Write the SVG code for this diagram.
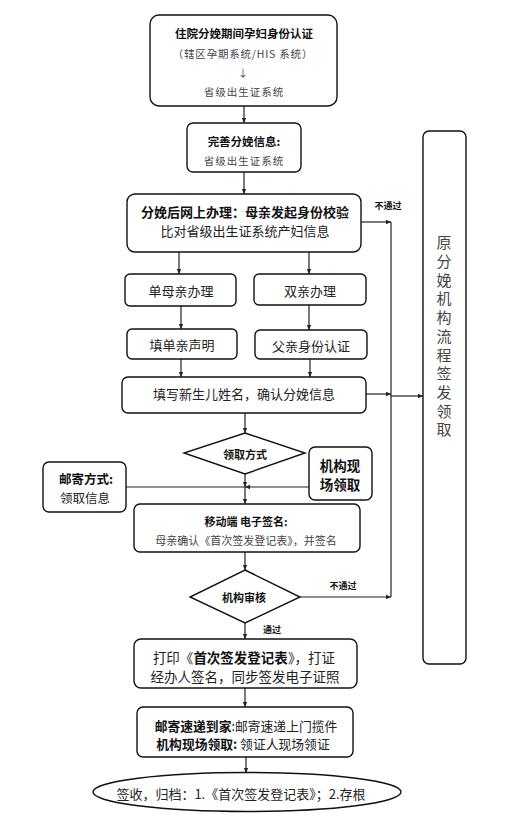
<svg xmlns="http://www.w3.org/2000/svg" width="515" height="826" viewBox="0 0 515 826">
<style>
  .box{fill:#fff;stroke:#111;stroke-width:1.4}
  .t{font-family:"Noto Sans CJK SC","Noto Sans",sans-serif;fill:#222;text-anchor:middle;dominant-baseline:central}
  .b{font-weight:bold;fill:#111}
  .g{fill:#444}
  .ln{fill:none;stroke:#222;stroke-width:1.2}
  .arr{marker-end:url(#ah)}
</style>
<defs>
  <marker id="ah" viewBox="0 0 8 8" refX="7" refY="4" markerWidth="6" markerHeight="6" orient="auto" markerUnits="userSpaceOnUse">
    <path d="M0,1 L7,4 L0,7 Z" fill="#222"/>
  </marker>
</defs>
<rect width="515" height="826" fill="#fff"/>

<g id="connectors">
  <line class="ln arr" x1="244" y1="106" x2="244" y2="123"/>
  <line class="ln arr" x1="244" y1="172" x2="244" y2="194"/>
  <line class="ln arr" x1="179" y1="252" x2="179" y2="274"/>
  <line class="ln arr" x1="309" y1="252" x2="309" y2="274"/>
  <line class="ln arr" x1="181" y1="306" x2="181" y2="329"/>
  <line class="ln arr" x1="309" y1="305" x2="309" y2="330"/>
  <line class="ln arr" x1="181" y1="359" x2="181" y2="377"/>
  <line class="ln arr" x1="310" y1="359" x2="310" y2="377"/>
  <line class="ln arr" x1="361" y1="222" x2="391" y2="222"/>
  <line class="ln" x1="391" y1="222" x2="391" y2="597"/>
  <line class="ln arr" x1="366" y1="394" x2="391" y2="394"/>
  <line class="ln arr" x1="391" y1="396" x2="423" y2="396"/>
  <line class="ln arr" x1="300" y1="597" x2="391" y2="597"/>
  <line class="ln arr" x1="245" y1="413" x2="245" y2="433"/>
  <line class="ln arr" x1="245" y1="474" x2="245" y2="487"/>
  <line class="ln" x1="126" y1="487" x2="245" y2="487"/>
  <line class="ln arr" x1="309" y1="487" x2="245" y2="487"/>
  <line class="ln arr" x1="245" y1="487" x2="245" y2="504"/>
  <line class="ln arr" x1="245" y1="552" x2="245" y2="570"/>
  <line class="ln arr" x1="245" y1="623" x2="245" y2="639"/>
  <line class="ln arr" x1="245" y1="688" x2="245" y2="707"/>
  <line class="ln arr" x1="246" y1="757" x2="246" y2="773"/>
  <text class="t b" x="388" y="205" font-size="9">不通过</text>
  <text class="t b" x="343" y="585" font-size="9">不通过</text>
  <text class="t b" x="272" y="629" font-size="9">通过</text>
</g>

<g id="n1">
  <rect class="box" x="150" y="15" width="187" height="91" rx="9"/>
  <text class="t b" x="244" y="33" font-size="11.5">住院分娩期间孕妇身份认证</text>
  <text class="t g" x="243" y="53" font-size="10.5" letter-spacing="0.8">（辖区孕期系统/HIS 系统）</text>
  <text class="t g" x="243" y="72" font-size="10">↓</text>
  <text class="t g" x="244" y="91" font-size="10.5" letter-spacing="1">省级出生证系统</text>
</g>

<g id="n2">
  <rect class="box" x="187" y="123" width="114" height="49" rx="6"/>
  <text class="t b" x="244" y="141" font-size="11.5">完善分娩信息:</text>
  <text class="t g" x="244" y="160" font-size="10.5" letter-spacing="1">省级出生证系统</text>
</g>

<g id="n3">
  <rect class="box" x="127" y="194" width="234" height="58" rx="8"/>
  <text class="t b" x="245" y="211" font-size="13">分娩后网上办理：母亲发起身份校验</text>
  <text class="t" x="245" y="230" font-size="13">比对省级出生证系统产妇信息</text>
</g>

<g id="n4">
  <rect class="box" x="125" y="274" width="111" height="32" rx="5"/>
  <text class="t" x="181" y="290" font-size="13">单母亲办理</text>
</g>

<g id="n5">
  <rect class="box" x="254" y="274" width="112" height="31" rx="5"/>
  <text class="t" x="310" y="290" font-size="13">双亲办理</text>
</g>

<g id="n6">
  <rect class="box" x="127" y="329" width="110" height="30" rx="5"/>
  <text class="t" x="182" y="344" font-size="13">填单亲声明</text>
</g>

<g id="n7">
  <rect class="box" x="255" y="330" width="112" height="29" rx="5"/>
  <text class="t" x="311" y="345" font-size="13">父亲身份认证</text>
</g>

<g id="n8">
  <rect class="box" x="122" y="377" width="244" height="36" rx="6"/>
  <text class="t" x="244" y="393" font-size="13">填写新生儿姓名，确认分娩信息</text>
</g>

<g id="n9">
  <polygon class="box" points="245,433 305,453 245,474 184,453"/>
  <text class="t b" x="245" y="454" font-size="11">领取方式</text>
</g>

<g id="n10">
  <rect class="box" x="309" y="447" width="63" height="53" rx="6"/>
  <text class="t b" x="340" y="465" font-size="13.5">机构现</text>
  <text class="t b" x="340" y="484" font-size="13.5">场领取</text>
</g>

<g id="n11">
  <rect class="box" x="43" y="462" width="83" height="50" rx="6"/>
  <text class="t b" x="86" y="478" font-size="12.5">邮寄方式:</text>
  <text class="t" x="85" y="497" font-size="12.5">领取信息</text>
</g>

<g id="n12">
  <rect class="box" x="134" y="504" width="226" height="48" rx="6"/>
  <text class="t b" x="246" y="521" font-size="11">移动端 电子签名:</text>
  <text class="t g" x="246" y="540" font-size="11">母亲确认《首次签发登记表》，并签名</text>
</g>

<g id="n13">
  <polygon class="box" points="245,570 300,597 245,623 190,597"/>
  <text class="t b" x="244" y="597" font-size="11">机构审核</text>
</g>

<g id="n14">
  <rect class="box" x="134" y="639" width="223" height="49" rx="7"/>
  <text class="t" x="244" y="657" font-size="13.5">打印《<tspan class="b">首次签发登记表</tspan>》，打证</text>
  <text class="t" x="245" y="676" font-size="13.5">经办人签名，同步签发电子证照</text>
</g>

<g id="n15">
  <rect class="box" x="137" y="707" width="216" height="50" rx="6"/>
  <text class="t" x="246" y="725" font-size="12.8"><tspan class="b">邮寄速递到家</tspan>:邮寄速递上门揽件</text>
  <text class="t" x="243" y="743" font-size="12.8"><tspan class="b">机构现场领取:</tspan> 领证人现场领证</text>
</g>

<g id="n16">
  <ellipse class="box" cx="247" cy="792" rx="154" ry="19.5"/>
  <text class="t" x="241" y="793" font-size="13">签收，归档：1.《首次签发登记表》；2.存根</text>
</g>

<g id="n17">
  <rect class="box" x="423" y="131" width="43" height="533" rx="6"/>
  <text class="g" x="444" y="338" font-family="Noto Sans CJK SC, sans-serif" font-size="15" writing-mode="vertical-rl" text-anchor="middle" letter-spacing="3.7">原分娩机构流程签发领取</text>
</g>
</svg>
